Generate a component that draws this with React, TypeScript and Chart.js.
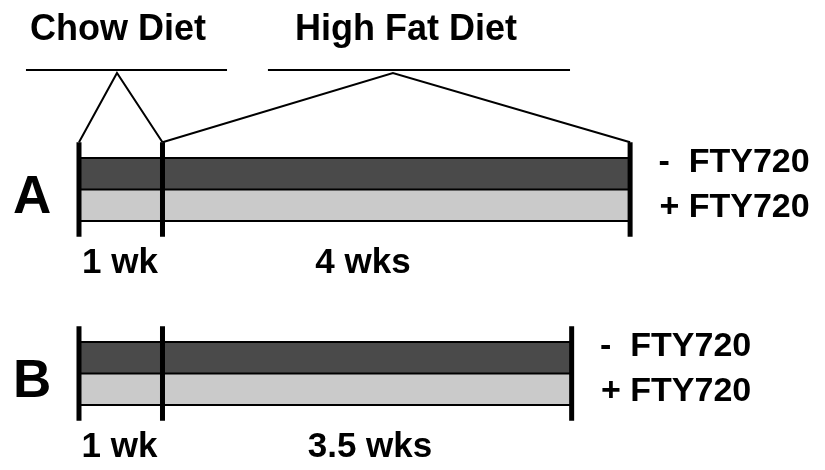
import React, { useEffect, useRef } from 'react';
import { Chart, registerables, LinearScale } from 'chart.js';

// ---------- data ----------
const phases = ['Chow Diet', 'High Fat Diet'];
const groups = ['A', 'B'];
const weeksA = [1, 4];
const weeksB = [1, 3.5];
const durationLabelsA = ['1 wk', '4 wks'];
const durationLabelsB = ['1 wk', '3.5 wks'];
const treatments = ['-  FTY720', '+ FTY720'];

const groupWeeks = [weeksA, weeksB];
const groupDurationLabels = [durationLabelsA, durationLabelsB];

// ---------- layout / style ----------
const HFD_STRETCH = 1.4; // drawn length of one high-fat week relative to a chow week (schematic)
const X_MIN = -0.946;
const X_MAX = 8.934;
const Y_MIN = -5.016;
const Y_MAX = 9.905;
const GROUP_TOP = [0, 5.84];
const TICK_EXT = 0.5;
const BRACKET_LINE_Y = -2.794;
const BRACKET_APEX_Y = -2.7;
const bracketSpans = [[-0.635, 1.552], [1.902, 4.486]];
const bracketApexes = [0.455, 2.971];
const phaseLabelX = [0.467, 3.083];
const PHASE_LABEL_Y = -3.746;
const GROUP_LETTER_X = -0.56;
const GROUP_LETTER_DY = 1.746;
const durationLabelX = [[0.491, 2.715], [0.485, 2.775]];
const DURATION_DY = 3.65;
const TREATMENT_DX = 1.536;
const TREATMENT_DY = [0.44, 1.86];
const DARK = '#4a4a4a';
const LIGHT = '#cacaca';
const FONT = '"Liberation Sans", Arial, Helvetica, sans-serif';

class PhaseScale extends LinearScale {
  static id = 'phase';
  static defaults = (LinearScale as any).defaults;
  getPixelForValue(value: number, index?: number) {
    const o: any = this.options;
    const brk = o.breakAt ?? 0;
    const s = o.stretch ?? 1;
    const d = value <= brk ? value : brk + (value - brk) * s;
    return super.getPixelForValue(d, index);
  }
}

Chart.register(...registerables, PhaseScale);

function cumulative(ws: number[]) {
  const out = [0];
  ws.forEach((w) => out.push(out[out.length - 1] + w));
  return out;
}

function buildDatasets() {
  const ds: any[] = [];
  const line = (data: { x: number; y: number }[], extra: any = {}) => ({
    data,
    borderColor: '#000',
    borderWidth: 2,
    pointRadius: 0,
    pointHoverRadius: 0,
    fill: false,
    tension: 0,
    borderCapStyle: 'butt',
    ...extra,
  });
  groups.forEach((g, gi) => {
    const bounds = cumulative(groupWeeks[gi]);
    const end = bounds[bounds.length - 1];
    const top = GROUP_TOP[gi];
    ds.push(line([{ x: 0, y: top }, { x: end, y: top }], { order: 2 }));
    ds.push(line([{ x: 0, y: top + 1 }, { x: end, y: top + 1 }], { order: 2, fill: '-1', backgroundColor: DARK }));
    ds.push(line([{ x: 0, y: top + 2 }, { x: end, y: top + 2 }], { order: 2, fill: '-1', backgroundColor: LIGHT }));
    bounds.forEach((b) => {
      ds.push(line([{ x: b, y: top - TICK_EXT }, { x: b, y: top + 2 + TICK_EXT }], { borderWidth: 5, order: 0 }));
    });
  });
  const bA = cumulative(weeksA);
  phases.forEach((p, pi) => {
    ds.push(line([{ x: bracketSpans[pi][0], y: BRACKET_LINE_Y }, { x: bracketSpans[pi][1], y: BRACKET_LINE_Y }], { order: 1 }));
    ds.push(
      line(
        [
          { x: bA[pi], y: GROUP_TOP[0] - TICK_EXT },
          { x: bracketApexes[pi], y: BRACKET_APEX_Y },
          { x: bA[pi + 1], y: GROUP_TOP[0] - TICK_EXT },
        ],
        { order: 1, borderJoinStyle: 'miter' }
      )
    );
  });
  return ds;
}

function buildTexts() {
  const t: { text: string; x: number; y: number; size: number; align: CanvasTextAlign }[] = [];
  phases.forEach((p, pi) => t.push({ text: p, x: phaseLabelX[pi], y: PHASE_LABEL_Y, size: 36, align: 'center' }));
  groups.forEach((g, gi) => {
    const top = GROUP_TOP[gi];
    const bounds = cumulative(groupWeeks[gi]);
    const end = bounds[bounds.length - 1];
    t.push({ text: g, x: GROUP_LETTER_X, y: top + GROUP_LETTER_DY, size: 53, align: 'center' });
    groupDurationLabels[gi].forEach((lbl, li) =>
      t.push({ text: lbl, x: durationLabelX[gi][li], y: top + DURATION_DY, size: 35, align: 'center' })
    );
    treatments.forEach((tr, ti) =>
      t.push({ text: tr, x: end + TREATMENT_DX, y: top + TREATMENT_DY[ti], size: 34, align: 'right' })
    );
  });
  return t;
}

const textPlugin = {
  id: 'diagramText',
  afterDatasetsDraw(chart: any) {
    const { ctx } = chart;
    const xs = chart.scales.x;
    const ys = chart.scales.y;
    ctx.save();
    ctx.fillStyle = '#000';
    ctx.textBaseline = 'alphabetic';
    buildTexts().forEach((t) => {
      ctx.font = `bold ${t.size}px ${FONT}`;
      ctx.textAlign = t.align;
      ctx.fillText(t.text, xs.getPixelForValue(t.x), ys.getPixelForValue(t.y));
    });
    ctx.restore();
  },
};

export default function App() {
  const ref = useRef<HTMLCanvasElement>(null);
  useEffect(() => {
    document.body.style.margin = '0';
    const chart = new Chart(ref.current!, {
      type: 'line',
      data: { datasets: buildDatasets() },
      options: {
        animation: false,
        responsive: true,
        maintainAspectRatio: false,
        events: [],
        layout: { padding: 0 },
        plugins: { legend: { display: false }, tooltip: { enabled: false } },
        scales: {
          x: {
            type: 'phase' as any,
            breakAt: weeksA[0],
            stretch: HFD_STRETCH,
            min: X_MIN,
            max: X_MAX,
            display: false,
          } as any,
          y: { type: 'linear', reverse: true, min: Y_MIN, max: Y_MAX, display: false },
        },
      },
      plugins: [textPlugin],
    });
    return () => chart.destroy();
  }, []);
  return (
    <div style={{ position: 'fixed', left: 0, top: 0, width: 825, height: 470, background: '#fff' }}>
      <canvas ref={ref} />
    </div>
  );
}
